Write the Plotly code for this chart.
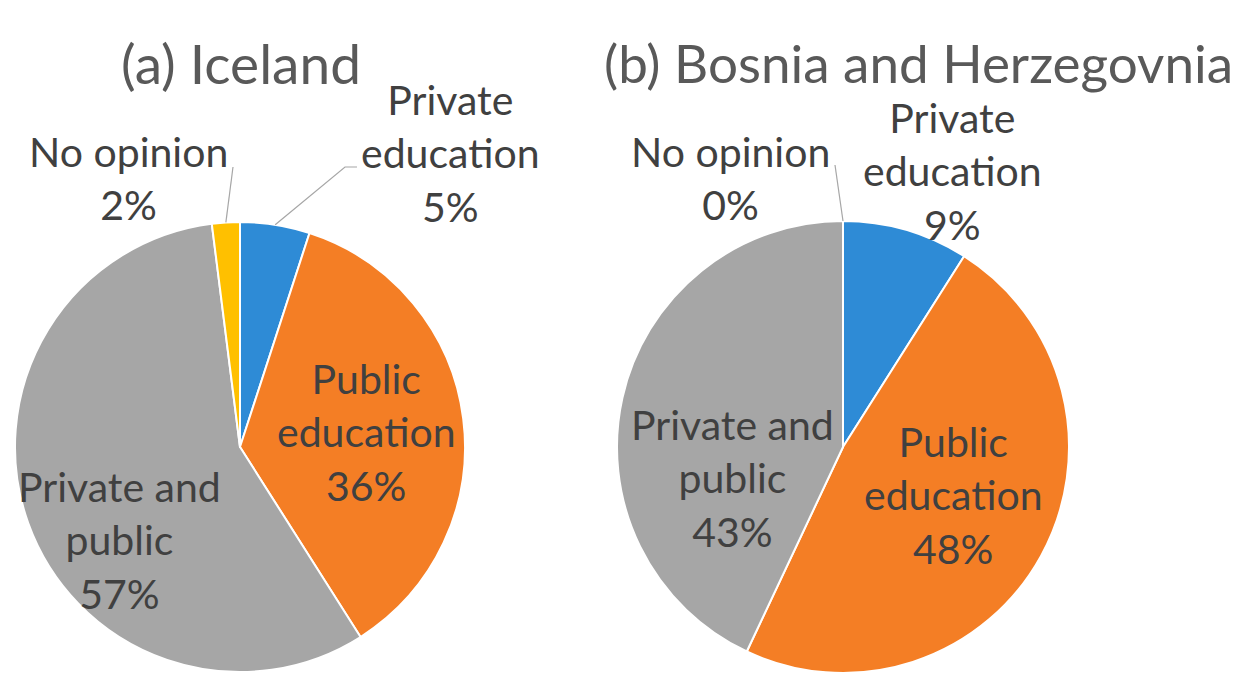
import math
import plotly.graph_objects as go

# ---- data ----
categories = ["Private education", "Public education", "Private and public", "No opinion"]
label_lines = ["Private<br>education", "Public<br>education", "Private and<br>public", "No opinion"]
iceland_values = [5, 36, 57, 2]
bosnia_values = [9, 48, 43, 0]
titles = ["(a) Iceland", "(b) Bosnia and Herzegovnia"]

# ---- style / layout ----
OFF = 8                      # page body margin of the browser
W, H = 1244 - OFF, 675 - OFF  # figure size
colors = ["#2E8BD6", "#F47E25", "#A6A6A6", "#FFC000"]
text_color = "#404040"
title_color = "#595959"
leader_color = "#A6A6A6"
FONT = "Lato"
LABEL_SIZE = 41
TITLE_SIZES = [55, 53]

# pie geometry in screen pixels (center x, center y, radius)
pies = [
    dict(values=iceland_values, cx=240, cy=447, r=225, title=titles[0], tx=241, ty=63,
         lab=[(450, 153), (366, 432), (119, 540), (128, 178)],
         lead=[[(357, 167), (345, 167)], None, None, [(233, 167)]]),
    dict(values=bosnia_values, cx=843, cy=447, r=226, title=titles[1], tx=918, ty=63,
         lab=[(952, 171), (953, 495), (732, 478), (730, 178)],
         lead=[None, None, None, [(835, 165)]]),
]

def px(x):
    return (x - OFF) / W

def py(y):
    return 1 - (y - OFF) / H

fig = go.Figure()
for k, p in enumerate(pies):
    fig.add_trace(go.Pie(
        labels=categories,
        values=p["values"],
        textinfo="none",
        sort=False,
        direction="clockwise",
        rotation=0,
        marker=dict(colors=colors, line=dict(color="white", width=2)),
        showlegend=False,
        hoverinfo="label+percent",
        domain=dict(x=[px(p["cx"] - p["r"]), px(p["cx"] + p["r"])],
                    y=[py(p["cy"] + p["r"]), py(p["cy"] - p["r"])]),
    ))

    total = sum(p["values"])
    cum = 0
    for i, v in enumerate(p["values"]):
        mid = (cum + v / 2) / total * 2 * math.pi
        cum += v
        lx, ly = p["lab"][i]
        fig.add_annotation(text=f"{label_lines[i]}<br>{v}%", x=px(lx), y=py(ly),
                           xref="paper", yref="paper", showarrow=False,
                           xanchor="center", yanchor="middle",
                           font=dict(family=FONT, size=LABEL_SIZE, color=text_color))
        if p["lead"][i]:
            ex = p["cx"] + p["r"] * math.sin(mid)
            ey = p["cy"] - p["r"] * math.cos(mid)
            pts = p["lead"][i] + [(ex, ey)]
            path = "M " + " L ".join(f"{px(a):.5f},{py(b):.5f}" for a, b in pts)
            fig.add_shape(type="path", path=path, xref="paper", yref="paper",
                          line=dict(color=leader_color, width=1.2))

    fig.add_annotation(text=p["title"], x=px(p["tx"]), y=py(p["ty"]),
                       xref="paper", yref="paper", showarrow=False,
                       xanchor="center", yanchor="middle",
                       font=dict(family=FONT, size=TITLE_SIZES[k], color=title_color))

fig.update_layout(width=W, height=H, margin=dict(l=0, r=0, t=0, b=0),
                  paper_bgcolor="white", plot_bgcolor="white")
fig.write_html("out.html")
